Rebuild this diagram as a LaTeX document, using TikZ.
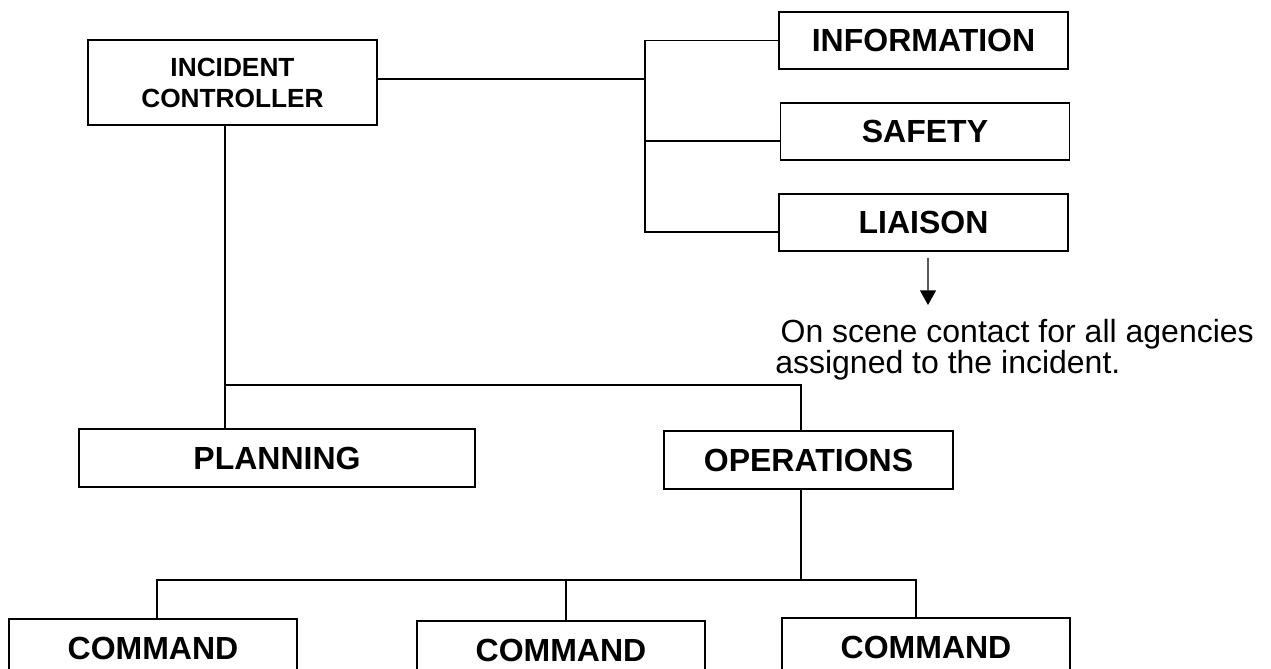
\documentclass[tikz,border=0pt]{standalone}
\usepackage{fontspec}
\setmainfont{Liberation Sans}
\usetikzlibrary{arrows.meta}

\begin{document}
\begin{tikzpicture}[x=0.75pt,y=-0.75pt,
  box/.style={draw,line width=1.4pt,inner sep=0pt,font=\fontsize{24}{28}\selectfont\bfseries,
    minimum width=216.75pt,minimum height=42.75pt},
  link/.style={line width=1.1pt},
  note/.style={font=\fontsize{24}{21.75}\selectfont,align=left,inner sep=0pt}]
\useasboundingbox (0,0) rectangle (1271,668);

% Head of the chart
\node[box,align=center,minimum height=63.75pt,font=\fontsize{19.7}{23.25}\selectfont\bfseries]
  (ic) at (232.5,82.5) {INCIDENT\\CONTROLLER};

% Staff on the right
\node[box] (info) at (923.5,40.5) {INFORMATION};
\node[box] (safety) at (925,131.5) {SAFETY};
\node[box] (liaison) at (923.5,222.5) {LIAISON};
\node[note,anchor=north west] (note) at (775,319)
  {\hspace*{4pt}On scene contact for all agencies\\assigned to the incident.};

% Sections
\node[box,minimum width=297pt,minimum height=43.5pt] (plan) at (277,458) {PLANNING};
\node[box,minimum height=43.5pt] (ops) at (808.5,460) {OPERATIONS};

% Commands (cut by the lower edge)
\node[box,minimum width=216pt,minimum height=43.5pt] (cmd1) at (153,648) {COMMAND};
\node[box,minimum width=216pt,minimum height=43.5pt] (cmd2) at (561,650) {COMMAND};
\node[box,minimum width=216pt,minimum height=43.5pt] (cmd3) at (926,647) {COMMAND};

% Joints of the lines
\coordinate (spine) at (645,141);
\coordinate (trunk) at (225,385);
\coordinate (fork) at (801,385);
\coordinate (bar) at (801,580);
\coordinate (tip) at (928,305);

% Connectors to the staff
\draw[link] ([yshift=2.6pt]ic.east) coordinate (icout) -- (icout -| spine);
\draw[link] (info.west) -| (spine) |- ([yshift=-7.1pt]liaison.west);
\draw[link] (spine) -- (spine -| safety.west);
\draw[line width=1pt,-{Triangle[width=12pt,length=11pt]}] ([xshift=3.4pt,yshift=-4.5pt]liaison.south) -- (tip);

% Connectors to the sections
\draw[link] (ic.south -| trunk) -- (trunk |- plan.north);
\draw[link] (trunk) -- (fork) -- (fork |- ops.north);
\draw[link] (fork |- ops.south) -- (bar);

% Connectors to the commands
\draw[link] ([xshift=3pt]cmd1.north) |- (bar) -| ([xshift=-7.5pt]cmd3.north);
\draw[link] ([xshift=3.75pt]cmd2.north) -- ([xshift=3.75pt]cmd2.north |- bar);
\end{tikzpicture}
\end{document}
